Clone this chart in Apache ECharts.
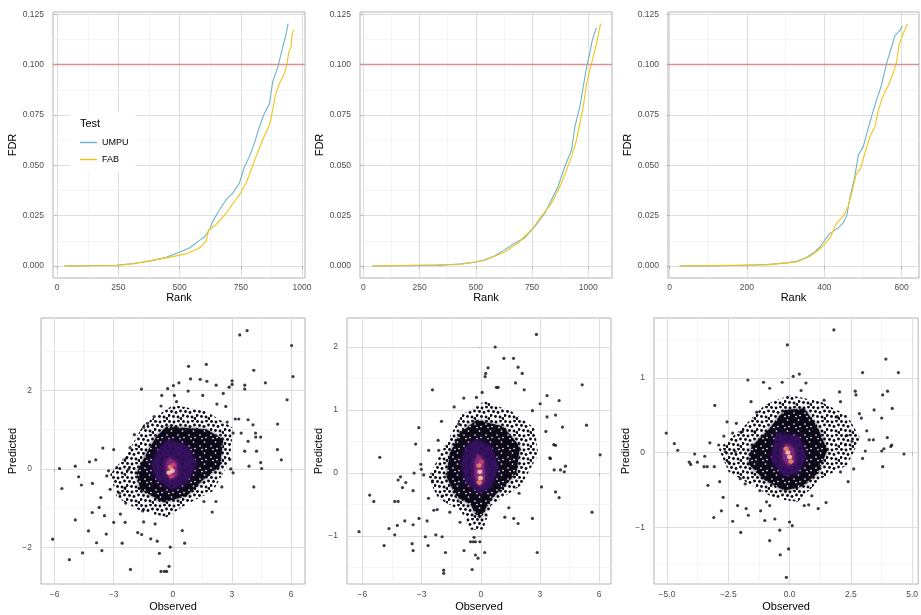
<!DOCTYPE html>
<html>
<head>
<meta charset="utf-8">
<title>FDR by rank / predicted vs observed</title>
<script src="https://cdn.jsdelivr.net/npm/echarts@6/dist/echarts.min.js"></script>
<style>
html, body { margin: 0; padding: 0; background: #fff; }
#chart { width: 921px; height: 615px; }
</style>
</head>
<body>
<div id="chart"></div>
<script>
// ---- top row: FDR against rank, [rank, fdr] ----
var umpu1 = [[30,0],[241,0.0003],[309,0.0012],[377,0.0023],[445,0.0043],[499,0.0068],[540,0.0089],[581,0.0127],[601,0.0144],[622,0.018],[635,0.0221],[663,0.0279],[690,0.0329],[717,0.0362],[744,0.0411],[765,0.0494],[785,0.0543],[805,0.0609],[826,0.0692],[846,0.0758],[867,0.0807],[880,0.0915],[901,0.0989],[921,0.1088],[932,0.1138],[943,0.1204]];
var fab1 = [[30,0],[241,0.0002],[309,0.001],[445,0.004],[527,0.006],[581,0.0089],[608,0.0122],[619,0.018],[649,0.0205],[690,0.0262],[717,0.0309],[744,0.0353],[771,0.0411],[792,0.0477],[812,0.0543],[839,0.0626],[867,0.07],[880,0.0774],[891,0.0849],[907,0.0906],[928,0.0956],[937,0.0997],[946,0.1063],[955,0.1088],[959,0.1146],[965,0.1174]];
var umpu2 = [[40,0],[332,0.0002],[436,0.001],[496,0.0018],[540,0.0031],[585,0.0051],[629,0.0081],[674,0.0114],[718,0.0139],[763,0.0196],[807,0.0262],[837,0.0329],[866,0.0395],[896,0.0494],[926,0.0576],[941,0.0692],[963,0.0791],[978,0.089],[993,0.0989],[1007,0.1055],[1018,0.1121],[1037,0.1184]];
var fab2 = [[40,0],[436,0.0008],[540,0.0028],[629,0.0069],[688,0.0114],[748,0.018],[792,0.0246],[837,0.0312],[881,0.0411],[926,0.0543],[948,0.0626],[978,0.0791],[993,0.0906],[1007,0.0972],[1022,0.1038],[1037,0.1105],[1055,0.1204]];
var umpu3 = [[26,0],[105,0],[191,0.0003],[251,0.0007],[303,0.0015],[329,0.0023],[355,0.0043],[372,0.0064],[389,0.0094],[402,0.013],[415,0.0163],[432,0.0183],[449,0.0213],[458,0.0249],[467,0.0345],[479,0.0444],[488,0.0551],[501,0.0593],[510,0.0659],[522,0.0741],[535,0.0824],[548,0.0898],[561,0.1005],[574,0.1088],[583,0.1146],[596,0.1171],[602,0.1192]];
var fab3 = [[26,0],[251,0.0005],[329,0.002],[363,0.0048],[389,0.0084],[415,0.0139],[432,0.0213],[449,0.0246],[462,0.0296],[471,0.0362],[482,0.0452],[494,0.0485],[505,0.056],[518,0.0642],[531,0.0692],[540,0.0774],[551,0.084],[566,0.0898],[578,0.0956],[587,0.1014],[594,0.1105],[604,0.1154],[615,0.1204]];
var fdrCutoff = 0.1;

// ---- bottom row: predicted against observed ----
// isolated hex cells (count 1)
var points1 = [[-6.10,-1.79],[-5.75,0.01],[-5.63,-0.50],[-5.25,-2.31],[-4.95,0.07],[-4.95,-1.30],[-4.78,-0.20],[-4.64,-0.41],[-4.58,-2.14],[-4.28,-1.58],[-4.23,0.18],[-4.09,-1.11],[-4.08,-0.37],[-3.91,0.23],[-3.87,-1.88],[-3.74,-0.98],[-3.65,-0.73],[-3.60,-2.08],[-3.55,0.53],[-3.47,-1.19],[-3.38,-1.66],[-3.35,-0.18],[-3.26,-0.05],[-3.18,-0.52],[-3.00,0.49],[-3.00,-1.36],[-2.84,0.03],[-2.70,-0.62],[-2.57,-1.89],[-2.42,-0.48],[-2.37,0.27],[-2.25,-0.01],[-2.39,-0.87],[-2.15,-2.56],[-2.17,0.54],[-2.66,-1.15],[-2.42,-1.36],[-1.95,0.87],[-1.78,-1.62],[-1.59,2.03],[-1.58,-1.67],[-1.48,-1.35],[-1.53,-1.07],[-1.48,1.06],[-1.28,1.16],[-1.12,-1.78],[-0.95,1.33],[-0.90,-1.40],[-0.79,-1.84],[-0.68,-2.15],[-0.60,1.60],[-0.56,1.87],[-0.60,-2.61],[-0.43,-2.61],[-0.31,-2.61],[-0.19,-2.48],[-0.13,-1.99],[-0.26,2.04],[0.03,2.12],[0.31,2.19],[0.08,1.87],[0.19,1.71],[0.48,-1.57],[0.60,-1.89],[0.78,1.98],[0.80,2.61],[0.90,2.29],[1.39,2.28],[1.52,1.87],[1.70,2.66],[1.73,2.23],[2.20,2.13],[2.24,1.65],[1.58,-0.83],[2.00,-1.10],[2.19,-0.83],[2.49,-0.46],[2.56,1.92],[2.86,2.08],[3.01,2.24],[3.01,2.15],[3.06,-0.10],[2.89,0.24],[2.94,0.00],[3.65,2.13],[3.65,2.03],[3.40,3.41],[3.77,3.52],[3.82,1.25],[4.11,2.51],[4.11,-0.46],[4.07,1.12],[3.87,0.07],[3.82,0.70],[4.21,0.81],[4.20,0.91],[4.46,0.16],[4.51,0.01],[4.46,0.81],[4.70,2.19],[4.25,0.45],[3.65,0.45],[5.31,0.49],[5.32,1.14],[5.51,0.23],[5.80,1.76],[6.03,3.14],[6.10,2.35],[3.35,1.27],[3.17,1.27],[3.47,0.91],[3.06,0.91],[2.69,1.59],[2.76,1.19]];
var points2 = [[-6.17,-0.93],[-5.63,-0.35],[-5.42,-0.45],[-5.12,0.25],[-4.90,-1.15],[-4.65,-0.88],[-4.36,-0.98],[-4.36,-0.45],[-4.19,-0.45],[-4.23,-0.83],[-4.19,-0.11],[-4.07,-0.06],[-3.97,-0.23],[-3.85,-0.76],[-3.80,-0.15],[-3.48,-1.12],[-3.43,-1.23],[-3.43,-0.82],[-3.43,-0.28],[-3.38,0.00],[-3.30,0.46],[-3.14,0.72],[-3.04,0.14],[-3.01,0.06],[-3.13,-0.72],[-2.89,-0.03],[-2.81,-1.01],[-2.72,-0.76],[-2.67,-1.15],[-2.65,-0.40],[-2.64,0.36],[-2.45,1.32],[-2.45,-0.14],[-2.38,-0.59],[-2.28,-0.98],[-2.21,-0.58],[-2.16,0.52],[-2.13,0.36],[-1.99,0.82],[-1.94,-0.36],[-1.96,-1.01],[-1.88,-1.54],[-1.88,-1.59],[-1.79,-1.26],[-1.57,-0.62],[-1.35,1.05],[-1.12,0.78],[-1.05,-0.78],[-0.86,1.19],[-0.85,-1.23],[-0.52,-1.09],[-0.39,-1.09],[-0.27,-1.09],[-0.44,-1.53],[-0.34,-1.02],[-0.27,-1.30],[-0.14,-1.35],[-0.05,-1.09],[0.20,-1.26],[-0.22,1.20],[0.07,1.28],[0.22,1.53],[0.25,1.58],[0.37,1.67],[0.73,2.00],[0.79,1.36],[0.88,1.36],[1.17,1.82],[1.66,1.82],[1.76,1.43],[1.89,1.68],[2.10,1.58],[2.20,1.32],[2.82,2.20],[3.01,1.10],[2.62,0.99],[3.36,1.23],[3.36,0.89],[3.79,0.92],[3.97,1.15],[3.70,0.45],[3.79,0.44],[3.30,0.66],[3.53,0.23],[3.50,0.24],[3.72,0.05],[4.04,0.05],[4.23,0.02],[4.29,0.11],[4.14,0.73],[3.97,-0.39],[3.79,-0.30],[3.08,-0.22],[2.62,-0.72],[2.86,-1.26],[1.94,-0.32],[1.89,-0.80],[1.67,-0.72],[1.22,-0.70],[1.42,-0.55],[5.14,1.40],[5.36,0.76],[5.64,-0.62],[6.05,0.29]];
var points3 = [[-5.03,0.26],[-4.70,0.12],[-4.56,0.03],[-4.09,-0.13],[-4.03,-0.16],[-3.87,-0.02],[-3.76,-0.13],[-3.46,-0.05],[-3.49,-0.19],[-3.36,-0.19],[-3.33,-0.44],[-3.25,0.13],[-3.07,-0.19],[-3.05,0.63],[-3.09,-0.87],[-2.89,0.10],[-2.85,-0.39],[-2.78,-0.78],[-2.71,-0.60],[-2.68,0.22],[-2.62,0.01],[-2.55,0.41],[-2.48,-0.13],[-2.32,-0.92],[-2.32,0.26],[-2.21,0.01],[-2.17,0.39],[-2.12,-0.71],[-1.99,-1.07],[-2.01,-0.35],[-1.92,0.28],[-1.81,-0.42],[-1.77,-0.75],[-1.70,0.97],[-1.68,-0.84],[-1.57,0.68],[-1.41,0.28],[-1.34,0.54],[-1.21,-0.51],[-1.18,-0.78],[-1.06,0.94],[-1.01,-0.91],[-0.94,-0.66],[-0.81,-1.18],[-0.81,0.86],[-0.81,-0.71],[-0.60,-0.89],[-0.40,-1.04],[-0.38,-1.37],[-0.30,0.94],[-0.13,-1.67],[-0.09,1.44],[-0.04,-1.29],[0.00,-0.93],[0.11,-0.98],[0.15,1.02],[0.40,1.05],[0.47,0.83],[0.67,0.93],[0.60,-0.71],[0.78,-0.70],[0.91,-0.58],[1.17,-0.75],[1.49,-0.67],[1.41,0.70],[1.81,1.64],[2.04,0.81],[2.08,0.68],[2.08,-0.26],[2.39,-0.39],[2.62,-0.22],[2.68,0.82],[2.71,0.77],[2.85,0.52],[2.93,0.46],[2.98,1.07],[2.98,-0.08],[3.09,0.02],[3.15,0.29],[3.25,0.17],[3.42,0.17],[3.45,0.57],[3.76,0.46],[3.76,0.02],[3.80,-0.19],[3.80,0.77],[3.85,0.05],[3.93,1.25],[4.00,0.82],[3.99,0.20],[4.13,0.08],[4.17,0.10],[4.19,0.59],[4.44,1.07],[4.67,-0.02],[2.35,0.23],[2.28,0.10],[2.55,0.15],[1.95,0.48]];

// outlines of the crowded regions, from sparse to densest, [observed, predicted]
var sparse1 = [[-1.49,1.12],[0.03,1.63],[1.71,1.46],[3.06,1.04],[2.89,0.20],[2.05,-0.56],[0.70,-0.90],[-0.31,-1.23],[-1.66,-1.07],[-2.84,-0.73],[-3.18,-0.14],[-2.34,0.37]];
var dense1 = [[-0.82,0.83],[-0.31,1.08],[1.72,1.00],[2.56,0.75],[2.39,0.07],[1.55,-0.27],[0.70,-0.69],[-0.48,-0.85],[-1.66,-0.52],[-1.83,-0.10],[-1.32,0.41]];
var purple1 = [[-0.23,0.75],[0.70,0.58],[1.21,0.16],[0.70,-0.35],[-0.06,-0.52],[-0.82,-0.27],[-1.07,0.11],[-0.73,0.49]];
var magenta1 = [[-0.14,0.28],[0.20,0.16],[0.20,-0.18],[-0.14,-0.27],[-0.34,-0.05],[-0.31,0.20]];
var bright1 = [[-0.11,0.05,2],[-0.03,-0.05,3],[-0.19,-0.10,3],[0.02,0.10,1],[-0.08,-0.18,1]];

var sparse2 = [[-0.98,0.92],[0.20,1.14],[1.55,0.98],[2.74,0.71],[2.91,0.29],[2.06,-0.19],[0.54,-0.51],[0.12,-0.90],[-0.56,-0.90],[-0.98,-0.61],[-2.16,-0.40],[-2.67,-0.08],[-1.99,0.34]];
var dense2 = [[-1.06,0.63],[-0.22,0.84],[1.13,0.74],[1.98,0.42],[1.81,0.00],[1.13,-0.22],[0.46,-0.43],[0.15,-0.62],[-0.05,-0.72],[-0.30,-0.64],[-0.50,-0.50],[-1.23,-0.38],[-1.74,-0.06],[-1.57,0.31]];
var purple2 = [[-0.22,0.53],[0.54,0.42],[0.88,0.10],[0.54,-0.22],[-0.05,-0.32],[-0.73,-0.16],[-0.98,0.16],[-0.73,0.42]];
var magenta2 = [[-0.14,0.31],[0.15,0.18],[0.20,-0.11],[-0.05,-0.22],[-0.29,-0.08],[-0.30,0.18]];
var bright2 = [[-0.05,0.02,3],[-0.02,-0.08,3],[-0.09,0.12,2],[0.03,0.18,1],[-0.08,-0.15,2]];

var sparse3 = [[-1.01,0.64],[0.00,0.77],[1.28,0.68],[2.35,0.50],[2.89,0.19],[2.35,-0.17],[1.28,-0.35],[0.34,-0.66],[-0.60,-0.62],[-1.54,-0.44],[-2.48,-0.26],[-2.89,0.05],[-1.95,0.32]];
var dense3 = [[-0.87,0.30],[-0.20,0.57],[0.60,0.59],[1.14,0.34],[1.54,0.03],[1.14,-0.28],[0.47,-0.46],[-0.20,-0.51],[-1.01,-0.37],[-1.68,-0.15],[-1.55,0.08]];
var purple3 = [[-0.54,0.26],[0.40,0.21],[0.67,-0.06],[0.33,-0.28],[-0.27,-0.31],[-0.74,-0.10]];
var magenta3 = [[-0.14,0.12],[0.17,0.05],[0.20,-0.13],[-0.04,-0.18],[-0.27,-0.08],[-0.27,0.05]];
var bright3 = [[-0.07,0.00,3],[0.00,-0.06,3],[-0.14,0.05,2],[0.05,-0.12,2]];

// ---- ticks ----
var fdrTicks = [0, 0.025, 0.05, 0.075, 0.1, 0.125];
var fdrMinor = [0.0125, 0.0375, 0.0625, 0.0875, 0.1125];
var rankTicks = [0, 250, 500, 750, 1000];
var rankMinor = [125, 375, 625, 875];
var rankTicks3 = [0, 200, 400, 600];
var rankMinor3 = [100, 300, 500];
var obsTicks = [-6, -3, 0, 3, 6];
var obsMinor = [-4.5, -1.5, 1.5, 4.5];
var obsTicks3 = [-5, -2.5, 0, 2.5, 5];
var obsMinor3 = [-3.75, -1.25, 1.25, 3.75];
var predTicks1 = [-2, 0, 2];
var predMinor1 = [-3, -1, 1, 3];
var predTicks2 = [-1, 0, 1, 2];
var predMinor2 = [-1.5, -0.5, 0.5, 1.5];
var predTicks3 = [-1, 0, 1];
var predMinor3 = [-1.5, -0.5, 0.5, 1.5];

var FONT = '"Liberation Sans", Arial, Helvetica, sans-serif';
var COL_UMPU = '#6cb4c7';
var COL_FAB = '#f0c516';

// small texture tiles for the crowded hex areas
function dotTile(size, dots, r, bg, dotColor) {
    var c = document.createElement('canvas');
    c.width = size; c.height = size;
    var g = c.getContext('2d');
    if (bg) { g.fillStyle = bg; g.fillRect(0, 0, size, size); }
    g.fillStyle = dotColor;
    dots.forEach(function (d) {
        g.beginPath(); g.arc(d[0], d[1], r, 0, Math.PI * 2); g.fill();
    });
    return { image: c, repeat: 'repeat' };
}
var sparsePat = dotTile(14, [[1.5,1.5],[6,2],[10.5,1],[3.5,5.5],[8,6.5],[12.5,5],[1,9.5],[5.5,10.5],[10,11],[13,12.5]], 1.45, null, '#0c0818');
var densePat = dotTile(11, [[2,6],[6.5,2],[8,8.5],[4,9.5]], 0.85, '#0c0818', '#ffffff');
var purplePat = dotTile(11, [[2,6],[6.5,2],[8,8.5]], 0.9, '#33115e', '#1b0c33');

var grids = [
    { left: 53, top: 12, width: 252, height: 266 },
    { left: 360, top: 12, width: 252, height: 266 },
    { left: 668, top: 12, width: 251, height: 266 },
    { left: 41, top: 318, width: 264, height: 266 },
    { left: 347, top: 318, width: 264, height: 266 },
    { left: 654, top: 318, width: 266, height: 266 }
];
grids.forEach(function (g) {
    g.show = true; g.borderColor = '#b3b3b3'; g.borderWidth = 1; g.backgroundColor = 'rgba(0,0,0,0)';
});

var xAxes = [], yAxes = [];
function minus(s) { return s.replace('-', '\u2212'); }

// main axis (labels, ticks, major grid) + hidden twin for minor grid
function addAxis(list, isY, gi, range, major, minor, digits, name, nameGap, labelMargin) {
    list.push({
        type: 'value', gridIndex: gi, min: range[0], max: range[1],
        position: isY ? 'left' : 'bottom',
        axisLine: { show: false },
        axisTick: { show: true, length: 3, customValues: major, lineStyle: { color: '#b3b3b3', width: 1 } },
        axisLabel: {
            customValues: major, fontSize: 8.5, color: '#4d4d4d', fontFamily: FONT, margin: labelMargin,
            formatter: function (v) { return minus(Number(v).toFixed(digits)); }
        },
        splitLine: { show: true, lineStyle: { color: '#dedede', width: 1 } },
        name: name, nameLocation: 'middle', nameGap: nameGap,
        nameTextStyle: { fontSize: 11, color: '#000', fontFamily: FONT }
    });
    list.push({
        type: 'value', gridIndex: gi, min: range[0], max: range[1],
        position: isY ? 'right' : 'top',
        axisLine: { show: false },
        axisTick: { show: false, customValues: minor },
        axisLabel: { show: false, customValues: minor },
        splitLine: { show: true, lineStyle: { color: '#ececec', width: 0.6 } }
    });
}

var fdrRange = [-0.006, 0.1262];
addAxis(xAxes, false, 0, [-17, 1012], rankTicks, rankMinor, 0, 'Rank', 14, 5);
addAxis(yAxes, true, 0, fdrRange, fdrTicks, fdrMinor, 3, 'FDR', 32, 9);
addAxis(xAxes, false, 1, [-15, 1106], rankTicks, rankMinor, 0, 'Rank', 14, 5);
addAxis(yAxes, true, 1, fdrRange, fdrTicks, fdrMinor, 3, 'FDR', 33, 9);
addAxis(xAxes, false, 2, [-4, 645], rankTicks3, rankMinor3, 0, 'Rank', 14, 5);
addAxis(yAxes, true, 2, fdrRange, fdrTicks, fdrMinor, 3, 'FDR', 34, 9);
addAxis(xAxes, false, 3, [-6.69, 6.71], obsTicks, obsMinor, 0, 'Observed', 17, 6);
addAxis(yAxes, true, 3, [-2.93, 3.84], predTicks1, predMinor1, 0, 'Predicted', 20, 9);
addAxis(xAxes, false, 4, [-6.78, 6.6], obsTicks, obsMinor, 0, 'Observed', 17, 6);
addAxis(yAxes, true, 4, [-1.76, 2.46], predTicks2, predMinor2, 0, 'Predicted', 20, 9);
addAxis(xAxes, false, 5, [-5.53, 5.25], obsTicks3, obsMinor3, 1, 'Observed', 17, 6);
addAxis(yAxes, true, 5, [-1.76, 1.80], predTicks3, predMinor3, 0, 'Predicted', 20, 9);

var series = [];

function fdrPanel(gi, umpu, fab) {
    series.push({
        name: 'UMPU', type: 'line', xAxisIndex: gi * 2, yAxisIndex: gi * 2,
        data: umpu, showSymbol: false, lineStyle: { color: COL_UMPU, width: 1.1 },
        itemStyle: { color: COL_UMPU }, z: 3,
        markLine: {
            silent: true, symbol: 'none', label: { show: false },
            lineStyle: { color: '#d99191', width: 1.3, type: 'solid' },
            data: [{ yAxis: fdrCutoff }]
        }
    });
    series.push({
        name: 'FAB', type: 'line', xAxisIndex: gi * 2, yAxisIndex: gi * 2,
        data: fab, showSymbol: false, lineStyle: { color: COL_FAB, width: 1.1 },
        itemStyle: { color: COL_FAB }, z: 4
    });
}
fdrPanel(0, umpu1, fab1);
fdrPanel(1, umpu2, fab2);
fdrPanel(2, umpu3, fab3);

var brightCol = { 1: '#d2426f', 2: '#f8935e', 3: '#fcdca6' };
var HEX = 'path://M0,-1L0.87,-0.5L0.87,0.5L0,1L-0.87,0.5L-0.87,-0.5Z';

function hexPanel(gi, sparse, dense, purple, magenta, bright, pts) {
    var zones = [
        { poly: sparse, fill: sparsePat, blur: 0 },
        { poly: dense, fill: densePat, blur: 4, shadow: 'rgba(12,8,24,0.7)' },
        { poly: purple, fill: purplePat, blur: 6, shadow: 'rgba(60,18,105,0.9)' },
        { poly: magenta, fill: '#84287f', blur: 5, shadow: 'rgba(150,45,125,0.9)' }
    ];
    series.push({
        type: 'custom', xAxisIndex: gi * 2, yAxisIndex: gi * 2, silent: true, clip: true, z: 2,
        data: zones.map(function (z) { return z.poly[0]; }),
        renderItem: function (params, api) {
            var z = zones[params.dataIndex];
            var style = { fill: z.fill };
            if (z.blur) { style.shadowBlur = z.blur; style.shadowColor = z.shadow; }
            return {
                type: 'polygon',
                shape: { points: z.poly.map(function (p) { return api.coord(p); }) },
                style: style
            };
        }
    });
    series.push({
        type: 'scatter', xAxisIndex: gi * 2, yAxisIndex: gi * 2, silent: true, z: 3,
        data: pts, symbol: 'circle', symbolSize: 3.2, itemStyle: { color: '#0c0818' }
    });
    series.push({
        type: 'scatter', xAxisIndex: gi * 2, yAxisIndex: gi * 2, silent: true, z: 4,
        data: bright, symbol: HEX, symbolSize: 5,
        itemStyle: { color: function (p) { return brightCol[p.value[2]]; } }
    });
}
hexPanel(3, sparse1, dense1, purple1, magenta1, bright1, points1);
hexPanel(4, sparse2, dense2, purple2, magenta2, bright2, points2);
hexPanel(5, sparse3, dense3, purple3, magenta3, bright3, points3);

var chart = echarts.init(document.getElementById('chart'));
chart.setOption({
    animation: false,
    backgroundColor: '#fff',
    textStyle: { fontFamily: FONT },
    grid: grids,
    xAxis: xAxes,
    yAxis: yAxes,
    legend: {
        data: ['UMPU', 'FAB'], orient: 'vertical', left: 70, top: 112,
        padding: [26, 7, 8, 10], itemGap: 8, itemWidth: 17, itemHeight: 1.5, icon: 'rect',
        backgroundColor: '#fff', selectedMode: false,
        textStyle: { fontSize: 9, color: '#000', fontFamily: FONT }
    },
    graphic: [{
        type: 'text', left: 80, top: 118, z: 100,
        style: { text: 'Test', fontSize: 11, fill: '#000', fontFamily: FONT }
    }],
    series: series
});
</script>
</body>
</html>
